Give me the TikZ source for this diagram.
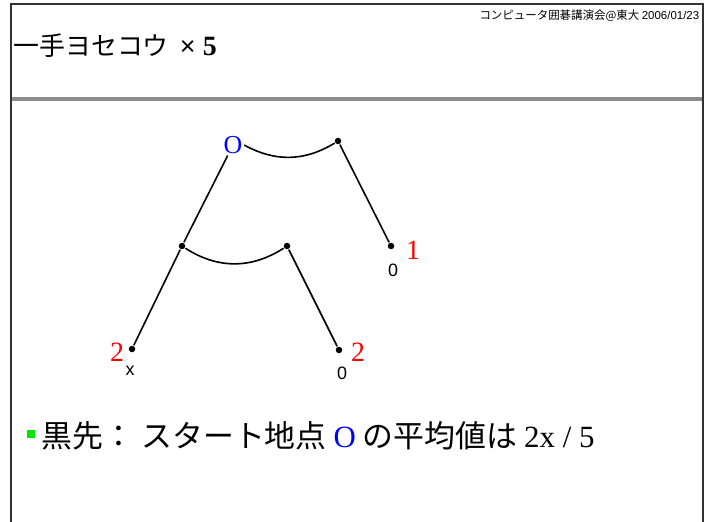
\documentclass[tikz,border=0pt]{standalone}
\usepackage{fontspec}
\setmainfont{Liberation Serif}
\setsansfont{Liberation Sans}
\newfontfamily\jp{Noto Sans CJK JP}
\usetikzlibrary{arrows.meta}
\definecolor{hdrgray}{RGB}{140,140,140}
\definecolor{nodegreen}{RGB}{0,230,0}

\begin{document}
\begin{tikzpicture}[x=1bp,y=-1bp,line width=1.6bp,
  pt/.style={circle,fill=black,inner sep=0pt,minimum size=6.5bp},
  val/.style={text=red,font=\fontsize{28}{28}\selectfont,inner sep=0pt},
  lbl/.style={font=\sffamily\fontsize{18}{18}\selectfont,inner sep=0pt}]
\useasboundingbox (0,0) rectangle (714,522);
% slide frame and header
\draw[line width=2bp,black!80] (11,530) -- (11,4) -- (703,4) -- (703,530);
\draw[line width=4.5bp,hdrgray] (12,99) -- (702,99);
\node[anchor=east,inner sep=0pt,font=\jp\fontsize{11.5}{11.5}\selectfont] (hdr) at (700,16)
  {コンピュータ囲碁講演会@東大 {\sffamily 2006/01/23}};
\node[anchor=west,inner sep=0pt,font=\jp\fontsize{26}{26}\selectfont] (title) at (13,46)
  {一手ヨセコウ\ \ {\sffamily\fontsize{27}{27}\selectfont ×\ }{\rmfamily\bfseries\fontsize{28}{28}\selectfont 5}};
% tree
\node[text=blue,inner sep=1pt,font=\fontsize{26}{26}\selectfont] (o) at (233,145) {O};
\node[pt] (tr) at (338,141) {};
\node[pt] (ml) at (182,246) {};
\node[pt] (mr) at (287,246) {};
\node[pt] (rl) at (391,246) {};
\node[pt] (bl) at (132,349) {};
\node[pt] (br) at (339,350) {};
\draw (o) -- (ml) -- (bl);
\draw (tr) -- (rl);
\draw (mr) -- (br);
\draw (o.east) to[bend right=30] (tr);
\draw (ml) to[bend right=33] (mr);
\node[val] (v1) at (413,250) {1};
\node[lbl] (z1) at (393,270) {0};
\node[val] (v2) at (117,352) {2};
\node[lbl] (x2) at (130,371) {x};
\node[val] (v3) at (358,352) {2};
\node[lbl] (z3) at (342,373) {0};
% bottom line
\node[fill=nodegreen,inner sep=0pt,minimum size=8bp] (sq) at (31,434) {};
\node[anchor=west,inner sep=0pt,font=\jp\fontsize{31}{31}\selectfont] (txt) at (41,436)
  {黒先： スタート地点 {\rmfamily\color{blue}O} の平均値は {\rmfamily 2x / 5}};
\end{tikzpicture}
\end{document}
